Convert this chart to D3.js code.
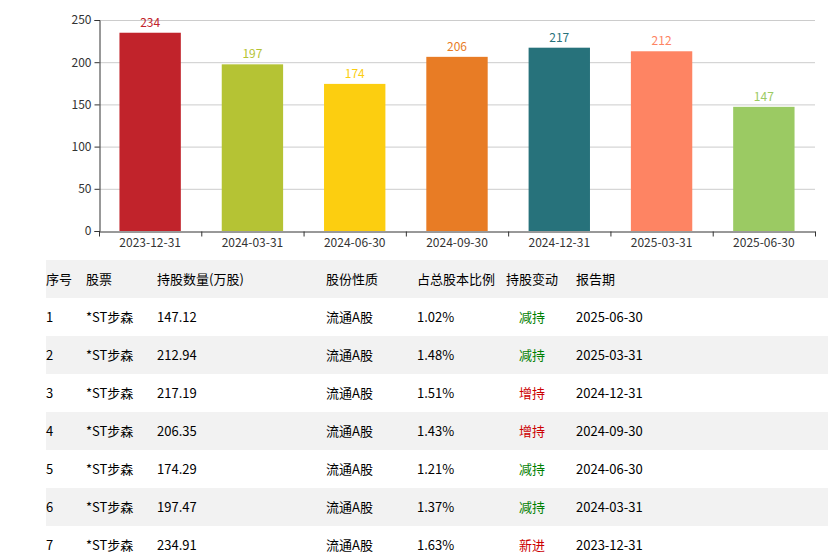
<!DOCTYPE html>
<html>
<head>
<meta charset="utf-8">
<script src="https://cdn.jsdelivr.net/npm/d3@7"></script>
<style>
  body { margin: 0; background: #fff; }
  svg { display: block; }
</style>
</head>
<body>
<div id="chart"></div>
<script>
// ---- data ----
const dates = ["2023-12-31", "2024-03-31", "2024-06-30", "2024-09-30", "2024-12-31", "2025-03-31", "2025-06-30"];
const holdings = [234.91, 197.47, 174.29, 206.35, 217.19, 212.94, 147.12];
const ratios = ["1.63%", "1.37%", "1.21%", "1.43%", "1.51%", "1.48%", "1.02%"];
const changes = ["新进", "减持", "减持", "增持", "增持", "减持", "减持"];
const stockName = "*ST步森";
const shareType = "流通A股";
const barColors = ["#c1232b", "#b5c334", "#fcce10", "#e87c25", "#27727b", "#fe8463", "#9bca63"];
const yTicks = [0, 50, 100, 150, 200, 250];
const headers = ["序号", "股票", "持股数量(万股)", "股份性质", "占总股本比例", "持股变动", "报告期"];

// ---- layout ----
const width = 828, height = 559;
const plot = { left: 99, right: 815, top: 20, bottom: 231 };
const chartFont = "'Noto Sans CJK SC', 'Open Sans', sans-serif";
const tableFont = "'Noto Sans CJK SC', sans-serif";

const svg = d3.select("#chart").append("svg")
  .attr("width", width)
  .attr("height", height);

const x = d3.scaleBand().domain(dates).range([plot.left, plot.right]);
const y = d3.scaleLinear().domain([0, 250]).range([plot.bottom, plot.top]);

// grid lines
svg.append("g")
  .selectAll("line")
  .data(yTicks.filter(d => d > 0))
  .join("line")
  .attr("x1", plot.left).attr("x2", plot.right)
  .attr("y1", d => y(d) + 0.5).attr("y2", d => y(d) + 0.5)
  .attr("stroke", "#ccc");

// bars
const barW = x.bandwidth() * 0.6;
svg.append("g")
  .selectAll("rect")
  .data(holdings)
  .join("rect")
  .attr("x", (d, i) => x(dates[i]) + (x.bandwidth() - barW) / 2)
  .attr("y", d => y(d))
  .attr("width", barW)
  .attr("height", d => y(0) - y(d))
  .attr("fill", (d, i) => barColors[i]);

// value labels
svg.append("g")
  .selectAll("text")
  .data(holdings)
  .join("text")
  .attr("x", (d, i) => x(dates[i]) + x.bandwidth() / 2)
  .attr("y", d => y(d) - 6)
  .attr("text-anchor", "middle")
  .attr("fill", (d, i) => barColors[i])
  .style("font", `12px ${chartFont}`)
  .text(d => Math.floor(d));

// y axis
const yAxis = svg.append("g")
  .attr("transform", `translate(${plot.left + 0.5},0)`)
  .call(d3.axisLeft(y).tickValues(yTicks).tickSize(5).tickPadding(3));
yAxis.select(".domain").attr("stroke", "#333");
yAxis.selectAll(".tick line").attr("stroke", "#333");
yAxis.selectAll(".tick text").attr("fill", "#333").style("font", `12px ${chartFont}`);

// x axis
const xAxis = svg.append("g")
  .attr("transform", `translate(0,${plot.bottom + 0.5})`)
  .call(d3.axisBottom(x).tickSize(0).tickPadding(7));
xAxis.select(".domain").attr("stroke", "#333");
xAxis.selectAll(".tick text").attr("fill", "#333").style("font", `12px ${chartFont}`);
// boundary ticks between categories
xAxis.append("g")
  .selectAll("line")
  .data(d3.range(dates.length + 1))
  .join("line")
  .attr("x1", i => plot.left + i * x.step() + 0.5)
  .attr("x2", i => plot.left + i * x.step() + 0.5)
  .attr("y1", 0).attr("y2", 5)
  .attr("stroke", "#333");

// ---- table ----
const table = { left: 46, right: 828, top: 260, rowH: 38 };
const cols = [
  { x: 46, anchor: "start" },
  { x: 86, anchor: "start" },
  { x: 157, anchor: "start" },
  { x: 326, anchor: "start" },
  { x: 417, anchor: "start" },
  { x: 532, anchor: "middle" },
  { x: 576, anchor: "start" }
];

const rows = d3.range(dates.length).reverse().map((k, i) => [
  String(i + 1), stockName, holdings[k].toFixed(2), shareType, ratios[k], changes[k], dates[k]
]);

const tg = svg.append("g");

// striped backgrounds: header and even rows
tg.selectAll("rect")
  .data(d3.range(rows.length + 1).filter(r => r % 2 === 0))
  .join("rect")
  .attr("x", table.left)
  .attr("y", r => table.top + r * table.rowH)
  .attr("width", table.right - table.left)
  .attr("height", table.rowH)
  .attr("fill", "#f2f2f2");

const allRows = [headers].concat(rows);
const rowG = tg.selectAll("g.row")
  .data(allRows)
  .join("g")
  .attr("class", "row")
  .attr("transform", (d, r) => `translate(0,${table.top + r * table.rowH + table.rowH / 2})`);

rowG.selectAll("text")
  .data((d, r) => d.map((v, c) => ({ v, c, r })))
  .join("text")
  .attr("x", d => cols[d.c].x)
  .attr("dy", "0.36em")
  .attr("text-anchor", d => cols[d.c].anchor)
  .attr("fill", d => {
    if (d.r > 0 && d.c === 5) return d.v === "减持" ? "#008000" : "#cc0000";
    return "#000";
  })
  .style("font", `13px ${tableFont}`)
  .text(d => d.v);
</script>
</body>
</html>
